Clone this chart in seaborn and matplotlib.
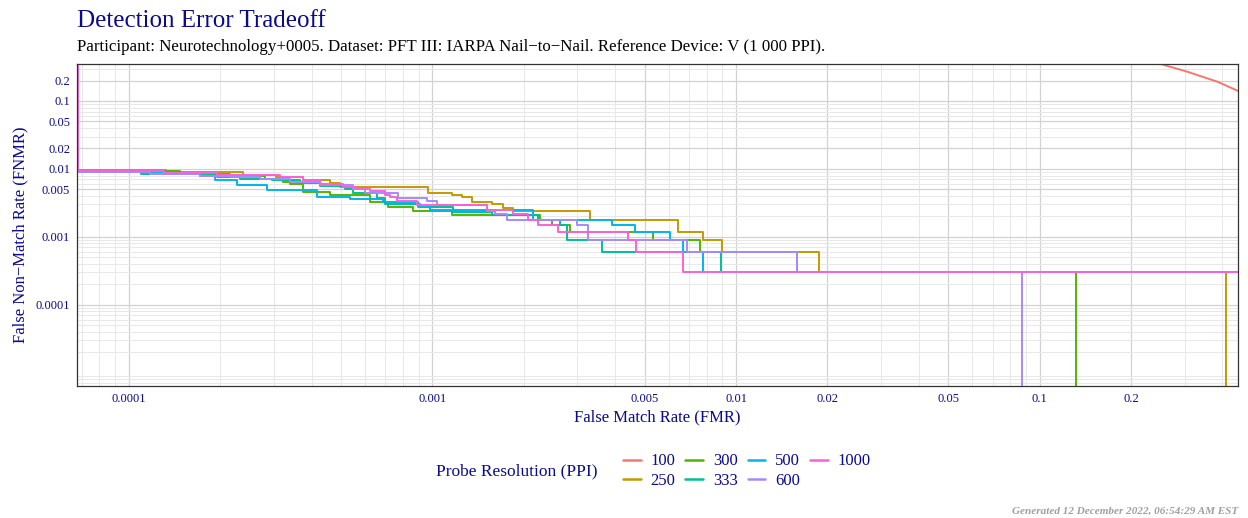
import matplotlib
matplotlib.use('Agg')
import matplotlib.pyplot as plt
from matplotlib.lines import Line2D
from matplotlib.ticker import FixedLocator, FixedFormatter, LogLocator, NullFormatter
import pandas as pd
import seaborn as sns

# Probe resolutions (PPI) and ggplot-style hue colours
resolutions = ['100', '250', '300', '333', '500', '600', '1000']
colors = ['#F8766D', '#C49A00', '#53B400', '#00C094', '#00B6EB', '#A58AFF', '#FB61D7']

# DET curves (FMR where FNMR steps down, new FNMR)
fmr_100 = [0.245, 0.306, 0.385, 0.451]
fnmr_100 = [0.36, 0.27, 0.192, 0.140]

fmr_250 = [1e-6, 6.8e-5, 1.33e-4, 2.37e-4, 3.05e-4, 3.74e-4, 4.6e-4, 4.96e-4, 9.66e-4,
           1.16e-3, 1.25e-3, 1.35e-3, 1.57e-3, 1.71e-3, 1.84e-3, 3.30e-3, 6.44e-3,
           7.78e-3, 8.99e-3, 1.88e-2, 0.411]
fnmr_250 = [1.0, 0.0097, 0.0091, 0.0082, 0.0076, 0.0069, 0.0062, 0.0055, 0.0045,
            0.0042, 0.0038, 0.0033, 0.0030, 0.0027, 0.0024, 0.0018, 0.0012,
            0.0009, 0.0006, 0.0003, 1e-7]

fmr_300 = [1e-6, 6.8e-5, 1.47e-4, 2.15e-4, 2.81e-4, 3.22e-4, 3.39e-4, 3.74e-4, 4.60e-4,
           6.22e-4, 7.13e-4, 8.63e-4, 1.16e-3, 2.26e-3, 2.48e-3, 2.84e-3, 5.33e-3,
           7.61e-3, 1.59e-2, 0.132]
fnmr_300 = [1.0, 0.0092, 0.0085, 0.0078, 0.0072, 0.0064, 0.0060, 0.0046, 0.0042,
            0.0033, 0.0028, 0.0024, 0.0021, 0.0018, 0.0015, 0.0012, 0.0009,
            0.0006, 0.0003, 1e-7]

fmr_333 = [1e-6, 6.8e-5, 1.10e-4, 1.95e-4, 2.32e-4, 2.96e-4, 3.66e-4, 4.26e-4, 5.15e-4,
           5.47e-4, 6.56e-4, 6.97e-4, 9.09e-4, 1.17e-3, 1.57e-3, 2.23e-3, 2.63e-3,
           2.77e-3, 3.62e-3, 8.93e-3, 0.46]
fnmr_333 = [1.0, 0.0089, 0.0083, 0.0077, 0.0072, 0.0068, 0.0062, 0.0056, 0.0050,
            0.0044, 0.0037, 0.0031, 0.0028, 0.0023, 0.0021, 0.0018, 0.0015,
            0.0009, 0.0006, 0.0003, 0.0003]

fmr_500 = [1e-6, 6.8e-5, 1.17e-4, 1.71e-4, 1.92e-4, 2.27e-4, 2.85e-4, 4.16e-4, 5.35e-4,
           6.87e-4, 8.96e-4, 9.81e-4, 2.14e-3, 3.90e-3, 4.65e-3, 6.06e-3, 6.69e-3,
           7.78e-3, 0.46]
fnmr_500 = [1.0, 0.0090, 0.0086, 0.0078, 0.0068, 0.0058, 0.0049, 0.0039, 0.0036,
            0.0033, 0.0028, 0.0025, 0.0018, 0.0015, 0.0012, 0.0009, 0.0006,
            0.0003, 0.0003]

fmr_600 = [1e-6, 6.8e-5, 1.17e-4, 1.71e-4, 2.15e-4, 2.70e-4, 3.39e-4, 4.26e-4, 5.47e-4,
           5.99e-4, 7.70e-4, 9.59e-4, 1.035e-3, 1.51e-3, 1.61e-3, 1.76e-3, 2.99e-3,
           3.25e-3, 6.90e-3, 1.59e-2, 0.0876]
fnmr_600 = [1.0, 0.0090, 0.0085, 0.0080, 0.0075, 0.0070, 0.0064, 0.0058, 0.0050,
            0.0044, 0.0037, 0.0034, 0.0029, 0.0024, 0.0022, 0.0018, 0.0015,
            0.0009, 0.0006, 0.0003, 1e-7]

fmr_1000 = [1e-6, 6.8e-5, 1.31e-4, 1.95e-4, 3.15e-4, 3.74e-4, 4.26e-4, 5.07e-4, 5.55e-4,
            6.22e-4, 6.97e-4, 7.24e-4, 7.63e-4, 8.87e-4, 1.51e-3, 1.84e-3, 2.06e-3,
            2.22e-3, 2.60e-3, 4.40e-3, 4.69e-3, 6.71e-3, 0.46]
fnmr_1000 = [1.0, 0.0094, 0.0088, 0.0082, 0.0075, 0.0069, 0.0060, 0.0055, 0.0051,
             0.0047, 0.0042, 0.0039, 0.0034, 0.0029, 0.0025, 0.0022, 0.0018,
             0.0015, 0.0012, 0.0009, 0.0006, 0.0003, 0.0003]

tick_values = [0.0001, 0.001, 0.005, 0.01, 0.02, 0.05, 0.1, 0.2]
tick_labels = ['0.0001', '0.001', '0.005', '0.01', '0.02', '0.05', '0.1', '0.2']

sns.set_style('white')
plt.rcParams['font.family'] = ['Liberation Serif', 'DejaVu Serif']

NAVY = '#0a0a8c'

fig = plt.figure(figsize=(12.48, 5.18), dpi=100)
ax = fig.add_axes([77 / 1248, 1 - 386 / 518, (1238 - 77) / 1248, (386 - 64) / 518])
ax.set_xscale('log')
ax.set_yscale('log')

palette = dict(zip(resolutions, colors))
curves = [('250', fmr_250, fnmr_250), ('300', fmr_300, fnmr_300),
          ('333', fmr_333, fnmr_333), ('500', fmr_500, fnmr_500),
          ('600', fmr_600, fnmr_600), ('1000', fmr_1000, fnmr_1000)]
steps = pd.concat([pd.DataFrame({'FMR': f, 'FNMR': n, 'PPI': r}) for r, f, n in curves])

sns.lineplot(x=fmr_100, y=fnmr_100, color=palette['100'], linewidth=1.4,
             estimator=None, sort=False, ax=ax)
sns.lineplot(data=steps, x='FMR', y='FNMR', hue='PPI', hue_order=resolutions[1:],
             palette=palette, estimator=None, sort=False, drawstyle='steps-post',
             linewidth=1.4, legend=False, ax=ax)

ax.set_xlim(6.75e-5, 0.45)
ax.set_ylim(6.4e-6, 0.35)

for axis in (ax.xaxis, ax.yaxis):
    axis.set_major_locator(FixedLocator(tick_values))
    axis.set_major_formatter(FixedFormatter(tick_labels))
    axis.set_minor_locator(LogLocator(base=10, subs=range(2, 10), numticks=20))
    axis.set_minor_formatter(NullFormatter())

ax.set_axisbelow(True)
ax.grid(which='major', color='#d2d2d2', linewidth=0.9)
ax.grid(which='minor', color='#e8e8e8', linewidth=0.7)
ax.tick_params(which='major', length=3, width=0.8, color='#333333',
               labelcolor=NAVY, labelsize=9, pad=2)
ax.tick_params(which='minor', length=0)
for s in ax.spines.values():
    s.set_color('#333333')
    s.set_linewidth(0.9)

ax.set_xlabel('False Match Rate (FMR)', color=NAVY, fontsize=12, labelpad=3)
ax.set_ylabel('False Non\u2212Match Rate (FNMR)', color=NAVY, fontsize=12, labelpad=5)
ax.yaxis.set_label_coords(-0.042, 0.47)

fig.text(77 / 1248, 1 - 21 / 518, 'Detection Error Tradeoff', color=NAVY,
         fontsize=18, ha='left', va='center')
fig.text(77 / 1248, 1 - 47 / 518,
         'Participant: Neurotechnology+0005. Dataset: PFT III: IARPA Nail\u2212to\u2212Nail. '
         'Reference Device: V (1 000 PPI).',
         color='black', fontsize=12.2, ha='left', va='center')

handles = [Line2D([0], [0], color=c, lw=1.8) for c in colors]
fig.legend(handles, resolutions, ncol=4, loc='center left',
           bbox_to_anchor=(623 / 1248, 1 - 471 / 518), frameon=False,
           fontsize=12, labelcolor=NAVY, handlelength=1.05, handletextpad=0.6,
           columnspacing=0.6, labelspacing=0.2, borderpad=0, borderaxespad=0)
fig.text(598 / 1248, 1 - 471 / 518, 'Probe Resolution (PPI)', color=NAVY,
         fontsize=12.5, ha='right', va='center')

fig.text(1238 / 1248, 1 - 511 / 518, 'Generated 12 December 2022, 06:54:29 AM EST',
         color='#a0a0a0', fontsize=8, style='italic', weight='bold',
         ha='right', va='center')

fig.savefig('out.png', dpi=100)
